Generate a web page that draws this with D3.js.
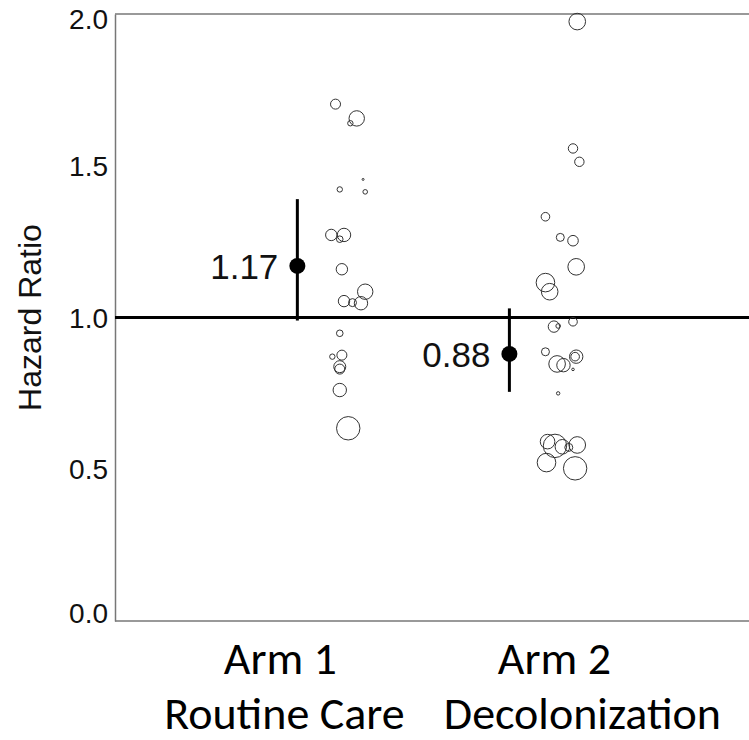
<!DOCTYPE html>
<html>
<head>
<meta charset="utf-8">
<script src="https://cdn.jsdelivr.net/npm/d3@7"></script>
<style>
  html, body { margin: 0; padding: 0; background: #fff; }
  svg { display: block; }
  .arial { font-family: "Liberation Sans", Arial, Helvetica, sans-serif; }
  .cal { font-family: Carlito, Lato, "Open Sans", sans-serif; }
</style>
</head>
<body>
<svg id="chart" width="749" height="740"></svg>
<script>
// Pooled hazard ratio per arm with 95% CI
const arms = ["Arm 1", "Arm 2"];
const armSubtitles = ["Routine Care", "Decolonization"];
const armPos = [1, 2];
const hrEstimate = [1.17, 0.88];
const ciLow = [0.99, 0.755];
const ciHigh = [1.39, 1.03];

const yTicks = [0.0, 0.5, 1.0, 1.5, 2.0];

// Per-hospital hazard ratios (bubble size ~ weight)
const arm1Offset = [0.18, 0.28, 0.25, 0.31, 0.20, 0.32, 0.16, 0.22, 0.20, 0.21, 0.32, 0.22, 0.26, 0.30, 0.20, 0.165, 0.21, 0.20, 0.20, 0.20, 0.24];
const arm1HR     = [1.703, 1.656, 1.64, 1.455, 1.422, 1.414, 1.272, 1.272, 1.258, 1.159, 1.085, 1.054, 1.049, 1.047, 0.948, 0.871, 0.876, 0.838, 0.830, 0.761, 0.635];
const arm1Size   = [5, 7.7, 2.7, 1, 2.7, 2.3, 5.7, 6.7, 3.3, 5.7, 7.7, 5.7, 4, 6.7, 3.3, 2.7, 5, 6, 5, 6.7, 11.7];

const arm2Offset = [0.32, 0.30, 0.33, 0.17, 0.24, 0.30, 0.315, 0.17, 0.19, 0.21, 0.23, 0.30, 0.17, 0.225, 0.255, 0.315, 0.31, 0.30, 0.23, 0.18, 0.215, 0.25, 0.28, 0.32, 0.175, 0.31];
const arm2HR     = [1.975, 1.557, 1.513, 1.332, 1.264, 1.253, 1.167, 1.115, 1.085, 0.970, 0.972, 0.986, 0.887, 0.847, 0.843, 0.871, 0.871, 0.829, 0.750, 0.591, 0.577, 0.574, 0.572, 0.580, 0.522, 0.503];
const arm2Size   = [8.3, 4.7, 4.7, 4.3, 4, 5.3, 8.3, 9.3, 8.3, 5.7, 2.3, 4.3, 4, 8.3, 6.7, 6.7, 4.3, 1.3, 1.7, 7.3, 11.7, 7.3, 4, 8.3, 9.3, 11.7];

const svg = d3.select("#chart");
const margin = { left: 115, top: 14, bottom: 119 };
const H = 740;

const x = d3.scaleLinear().domain([0.14, 3.13]).range([margin.left, 749]);
const y = d3.scaleLinear().domain([0, 2]).range([H - margin.bottom, margin.top]);

// frame: left axis, top and bottom rules
const frameColor = "#777";
svg.append("line").attr("x1", x(0.14)).attr("x2", x(3.13)).attr("y1", y(2)).attr("y2", y(2))
  .attr("stroke", frameColor).attr("stroke-width", 1.5);
svg.append("line").attr("x1", x(0.14)).attr("x2", x(3.13)).attr("y1", y(0)).attr("y2", y(0))
  .attr("stroke", frameColor).attr("stroke-width", 1.5);

const yAxis = d3.axisLeft(y).tickValues(yTicks).tickFormat(d3.format(".1f")).tickSize(0).tickPadding(7);
const gy = svg.append("g").attr("transform", `translate(${margin.left},0)`).call(yAxis)
  .attr("font-family", null).attr("font-size", null);
gy.select(".domain").attr("stroke", frameColor).attr("stroke-width", 1.5);
gy.selectAll("text")
  .attr("class", "arial")
  .style("font-size", "28px")
  .attr("fill", "#111")
  .attr("dy", d => d === 2 ? "0.5em" : d === 0 ? "0.05em" : "0.34em");

svg.append("text")
  .attr("class", "arial")
  .attr("transform", `translate(41,${y(1)}) rotate(-90)`)
  .attr("text-anchor", "middle")
  .style("font-size", "32px")
  .attr("fill", "#111")
  .text("Hazard Ratio");

// reference line at HR = 1
svg.append("line").attr("x1", x(0.14)).attr("x2", x(3.13)).attr("y1", y(1)).attr("y2", y(1))
  .attr("stroke", "#000").attr("stroke-width", 3);

// hospital-level bubbles
const bubbles = [];
arm1HR.forEach((v, i) => bubbles.push({ pos: armPos[0] + arm1Offset[i], hr: v, r: arm1Size[i] }));
arm2HR.forEach((v, i) => bubbles.push({ pos: armPos[1] + arm2Offset[i], hr: v, r: arm2Size[i] }));
svg.append("g").selectAll("circle").data(bubbles).join("circle")
  .attr("cx", d => x(d.pos)).attr("cy", d => y(d.hr)).attr("r", d => d.r)
  .attr("fill", "none").attr("stroke", "#333").attr("stroke-width", 1);

// pooled estimates
const pooled = arms.map((a, i) => ({ pos: armPos[i], hr: hrEstimate[i], lo: ciLow[i], hi: ciHigh[i] }));
const g = svg.append("g");
g.selectAll("line.ci").data(pooled).join("line").attr("class", "ci")
  .attr("x1", d => x(d.pos)).attr("x2", d => x(d.pos))
  .attr("y1", d => y(d.lo)).attr("y2", d => y(d.hi))
  .attr("stroke", "#000").attr("stroke-width", 3);
g.selectAll("circle").data(pooled).join("circle")
  .attr("cx", d => x(d.pos)).attr("cy", d => y(d.hr)).attr("r", 8).attr("fill", "#000");
g.selectAll("text").data(pooled).join("text")
  .attr("class", "arial")
  .attr("x", d => x(d.pos) - 19).attr("y", d => y(d.hr)).attr("dy", "0.38em")
  .attr("text-anchor", "end")
  .style("font-size", "35px").attr("fill", "#111")
  .text(d => d.hr.toFixed(2));

// category labels
svg.append("g").selectAll("text").data(arms).join("text")
  .attr("class", "cal")
  .attr("x", (d, i) => x(armPos[i]) + (i === 0 ? -17 : 45))
  .attr("y", 674).attr("text-anchor", "middle")
  .style("font-size", "46px").attr("fill", "#000")
  .text(d => d);
svg.append("g").selectAll("text").data(armSubtitles).join("text")
  .attr("class", "cal")
  .attr("x", (d, i) => x(armPos[i]) + (i === 0 ? -13 : 73))
  .attr("y", 729).attr("text-anchor", "middle")
  .style("font-size", "46px").attr("fill", "#000")
  .text(d => d);
</script>
</body>
</html>
